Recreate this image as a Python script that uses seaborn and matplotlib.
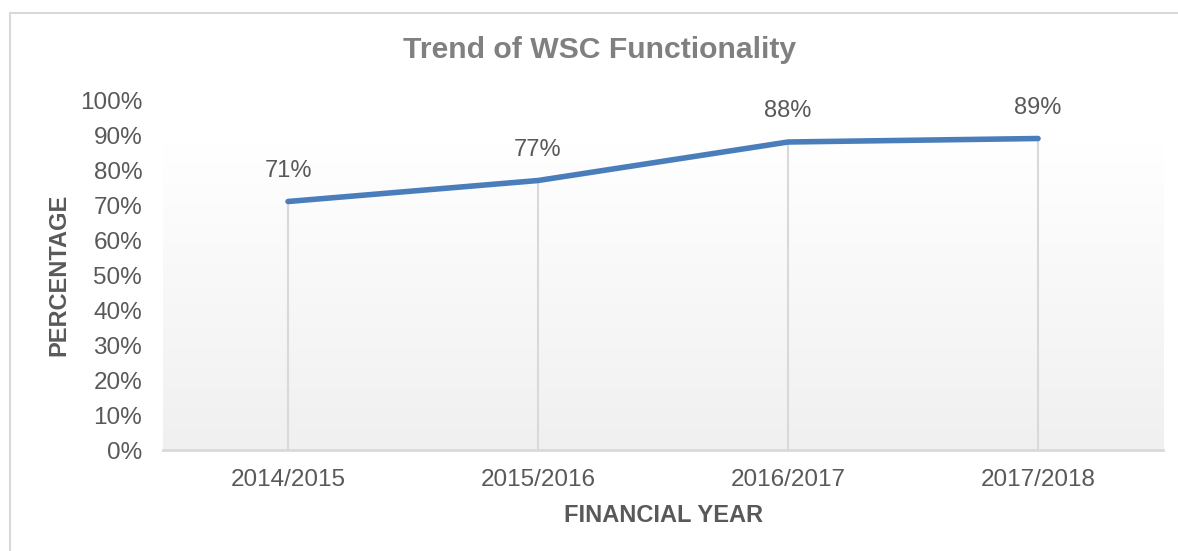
"""Trend of WSC Functionality line chart."""

import matplotlib.pyplot as plt
import matplotlib.patches as mpatches
import numpy as np
import pandas as pd
import seaborn as sns

YEARS = ["2014/2015", "2015/2016", "2016/2017", "2017/2018"]
FUNCTIONALITY = [0.71, 0.77, 0.88, 0.89]
Y_TICKS = [0.0, 0.1, 0.2, 0.3, 0.4, 0.5, 0.6, 0.7, 0.8, 0.9, 1.0]

LINE_COLOR = "#4a7ebb"
TEXT_COLOR = "#595959"
GRID_COLOR = "#d9d9d9"

sns.set_style("white")
plt.rcParams["font.family"] = ["Liberation Sans", "DejaVu Sans"]

df = pd.DataFrame({"year": YEARS, "value": FUNCTIONALITY})

fig = plt.figure(figsize=(11.78, 5.51), dpi=100)
ax = fig.add_axes([0.1384, 0.1833, 0.8489, 0.6352])

# outer chart border
fig.patches.append(mpatches.Rectangle(
    (10 / 1178, -0.1), 1.2, 1 - 13 / 551 + 0.1, transform=fig.transFigure,
    fill=False, edgecolor="#d9d9d9", linewidth=1.5, zorder=0))

# plot area gradient (white at top, light gray at bottom)
grad = np.linspace(0, 1, 256).reshape(-1, 1)
ax.imshow(grad, extent=(-0.5, 3.5, 0, 0.88), origin="lower", aspect="auto",
          cmap=sns.blend_palette(["#f0f0f0", "#ffffff"], as_cmap=True), zorder=0)

# drop lines
ax.vlines(range(len(YEARS)), 0, FUNCTIONALITY, color=GRID_COLOR, linewidth=1.5, zorder=1)

sns.lineplot(data=df, x="year", y="value", color=LINE_COLOR, linewidth=4,
             sort=False, ax=ax, zorder=3)

for i, v in enumerate(FUNCTIONALITY):
    ax.annotate(f"{v:.0%}", (i, v), xytext=(0, 31), textcoords="offset pixels",
                ha="center", va="center", fontsize=17, color=TEXT_COLOR)

ax.set_xlim(-0.5, 3.5)
ax.set_ylim(0, 1.0)
ax.set_yticks(Y_TICKS)
ax.set_yticklabels([f"{t:.0%}" for t in Y_TICKS])
ax.tick_params(axis="y", length=0, pad=15, labelsize=17.5, labelcolor=TEXT_COLOR)
ax.tick_params(axis="x", length=0, pad=14, labelsize=17.5, labelcolor=TEXT_COLOR)

for side in ["top", "right", "left"]:
    ax.spines[side].set_visible(False)
ax.spines["bottom"].set_color(GRID_COLOR)
ax.spines["bottom"].set_linewidth(2)
ax.patch.set_alpha(0)

ax.set_xlabel("FINANCIAL YEAR", fontsize=17, fontweight="bold", color=TEXT_COLOR, labelpad=9)
ax.set_ylabel("PERCENTAGE", fontsize=17, fontweight="bold", color=TEXT_COLOR, labelpad=7)
fig.text(600 / 1178, 1 - 50 / 551, "Trend of WSC Functionality", ha="center", va="center",
         fontsize=21.7, fontweight="bold", color="#808080")

fig.savefig("out.png", dpi=100)
plt.close(fig)
